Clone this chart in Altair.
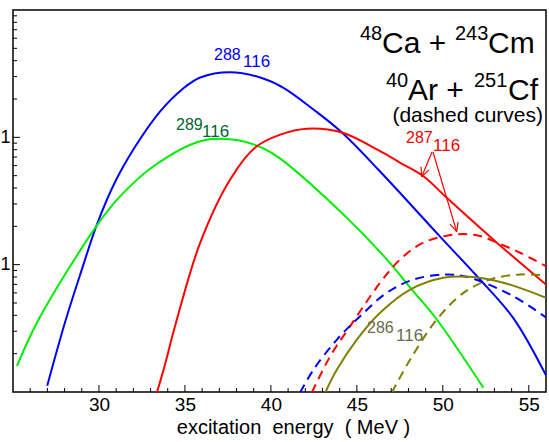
import altair as alt
import pandas as pd

FONT = "Liberation Sans"
W, H = 533, 382
LEFT, TOP = 13, 10

# ---- data (excitation energy in MeV, relative cross section, log scale) ----
blue_x = [26.99, 28.04, 28.91, 29.90, 30.95, 32.11, 33.56, 34.90, 35.89, 37.63, 39.38, 40.73, 42.46, 44.13, 46.35, 49.84, 52.0, 54.10, 56.0]
blue_y = [0.0112, 0.0358, 0.0838, 0.210, 0.450, 0.847, 1.60, 2.42, 2.95, 3.24, 2.95, 2.45, 1.66, 1.09, 0.539, 0.166, 0.0807, 0.0380, 0.0135]

green_x = [25.23, 26.49, 29.92, 31.24, 33.17, 35.89, 37.75, 39.38, 40.54, 44.42, 46.74, 48.20, 49.65, 52.36]
green_y = [0.0160, 0.0371, 0.207, 0.345, 0.593, 0.933, 0.962, 0.840, 0.680, 0.233, 0.110, 0.0638, 0.0371, 0.0108]

red_x = [33.37, 33.76, 34.53, 35.89, 37.63, 39.09, 40.54, 42.09, 44.13, 46.35, 47.52, 48.87, 50.23, 53.04, 56.0]
red_y = [0.0099, 0.0150, 0.0371, 0.149, 0.467, 0.832, 1.05, 1.17, 1.09, 0.778, 0.631, 0.495, 0.335, 0.153, 0.0698]

red_d_x = [42.38, 43.45, 44.61, 46.35, 47.52, 48.87, 50.81, 52.17, 53.14, 54.49, 56.0]
red_d_y = [0.0099, 0.0191, 0.0329, 0.0721, 0.110, 0.149, 0.173, 0.168, 0.149, 0.124, 0.0973]

blue_d_x = [41.70, 42.48, 43.84, 45.19, 46.74, 48.29, 50.23, 51.59, 54.10, 56.0]
blue_d_y = [0.0099, 0.0150, 0.0258, 0.0394, 0.0601, 0.0764, 0.0838, 0.0789, 0.0565, 0.0385]

olive_x = [43.16, 43.84, 45.0, 46.35, 48.10, 50.03, 51.59, 53.52, 56.0]
olive_y = [0.0099, 0.0150, 0.0258, 0.0419, 0.0638, 0.0789, 0.0803, 0.0721, 0.0550]

olive_d_x = [47.03, 48.10, 49.65, 51.20, 52.75, 54.49, 56.0]
olive_d_y = [0.0099, 0.0180, 0.0371, 0.0601, 0.0764, 0.0838, 0.0822]

x_major = [30, 35, 40, 45, 50, 55]
x_minor = [26, 27, 28, 29, 31, 32, 33, 34, 36, 37, 38, 39, 41, 42, 43, 44, 46, 47, 48, 49, 51, 52, 53, 54]
y_major = [0.1, 1]
y_minor = [0.02, 0.03, 0.04, 0.05, 0.06, 0.07, 0.08, 0.09,
           0.2, 0.3, 0.4, 0.5, 0.6, 0.7, 0.8, 0.9,
           2, 3, 4, 5, 6, 7, 8, 9]

NB = "\u00a0"
x_title = "excitation" + NB * 2 + "energy" + NB * 2 + "(" + NB + "MeV" + NB + ")"

xscale = alt.Scale(domain=[25, 56], nice=False, zero=False)
yscale = alt.Scale(type="log", domain=[0.01, 10], nice=False)

X = alt.X("x:Q", scale=xscale,
          axis=alt.Axis(values=x_major, ticks=False, domain=False, grid=False,
                        title=x_title, titleFont=FONT, titleFontSize=20, titleX=280,
                        titleFontWeight="normal", titlePadding=3, labelFont=FONT,
                        labelFontSize=19, labelPadding=3, labelColor="black", titleColor="black"))
Y = alt.Y("y:Q", scale=yscale,
          axis=alt.Axis(values=y_major, labelExpr="'1'", ticks=False, domain=False, grid=False,
                        title=None, labelFont=FONT, labelFontSize=18, labelPadding=3,
                        labelColor="black"))


def curve(xs, ys, color, dashed=False):
    df = pd.DataFrame({"x": xs, "y": ys})
    props = dict(color=color, strokeWidth=2, interpolate="catmull-rom", clip=True)
    if dashed:
        props["strokeDash"] = [9, 6]
    return alt.Chart(df).mark_line(**props).encode(x=X, y=Y)


def xticks(vals, length):
    return alt.Chart(pd.DataFrame({"x": vals})).mark_rule(color="black", strokeWidth=1).encode(
        x=X, y=alt.value(H), y2=alt.value(H - length))


def yticks(vals, length):
    return alt.Chart(pd.DataFrame({"y": vals})).mark_rule(color="black", strokeWidth=1).encode(
        y=Y, x=alt.value(0), x2=alt.value(length))


def txt(s, px, py, size, color, align="left"):
    return alt.Chart(alt.Data(values=[{}])).mark_text(
        text=s, align=align, baseline="alphabetic", fontSize=size, color=color, font=FONT
    ).encode(x=alt.value(px - LEFT), y=alt.value(py - TOP))


def seg(x1, y1, x2, y2, color):
    return alt.Chart(alt.Data(values=[{}])).mark_rule(color=color, strokeWidth=1.2).encode(
        x=alt.value(x1 - LEFT), y=alt.value(y1 - TOP), x2=alt.value(x2 - LEFT), y2=alt.value(y2 - TOP))


layers = [
    curve(blue_x, blue_y, "#0000ff"),
    curve(green_x, green_y, "#00ee00"),
    curve(red_x, red_y, "#ff0000"),
    curve(red_d_x, red_d_y, "#ff0000", dashed=True),
    curve(blue_d_x, blue_d_y, "#0000ff", dashed=True),
    curve(olive_x, olive_y, "#808000"),
    curve(olive_d_x, olive_d_y, "#808000", dashed=True),
    xticks(x_major, 7), xticks(x_minor, 4),
    yticks(y_major, 7), yticks(y_minor, 4),
    # reaction labels
    txt("48", 360, 40, 20, "black"), txt("Ca + ", 382, 53, 30, "black"),
    txt("243", 455, 40, 20, "black"), txt("Cm", 488, 53, 30, "black"),
    txt("40", 386, 87, 20, "black"), txt("Ar + ", 408, 100, 30, "black"),
    txt("251", 474, 87, 20, "black"), txt("Cf", 508, 100, 30, "black"),
    txt("(dashed curves)", 543, 122, 21, "black", align="right"),
    # isotope labels
    txt("288", 214, 60, 16, "#0000ff"), txt("116", 243, 67, 17, "#0000ff"),
    txt("289", 176, 130, 16, "#006633"), txt("116", 202, 137, 17, "#006633"),
    txt("287", 406, 143, 16, "#ff0000"), txt("116", 433, 151, 17, "#ff0000"),
    txt("286", 367, 333, 16, "#6b6b4a"), txt("116", 396, 341, 17, "#6b6b4a"),
    # arrows
    seg(432, 152, 421.7, 176.7, "#ff0000"),
    seg(421.7, 176.7, 429.0, 169.9, "#ff0000"),
    seg(421.7, 176.7, 421.1, 166.7, "#ff0000"),
    seg(433, 152, 456.7, 231.7, "#ff0000"),
    seg(456.7, 231.7, 458.2, 221.8, "#ff0000"),
    seg(456.7, 231.7, 450.1, 224.2, "#ff0000"),
]

chart = alt.layer(*layers).properties(
    width=W, height=H,
    autosize=alt.AutoSizeParams(type="none"),
    padding={"left": LEFT, "top": TOP, "right": 549 - LEFT - W, "bottom": 442 - TOP - H},
    background="white",
).configure_view(stroke="black", strokeWidth=1.5)

chart.save("out.html", embed_options={"renderer": "svg", "actions": False})
